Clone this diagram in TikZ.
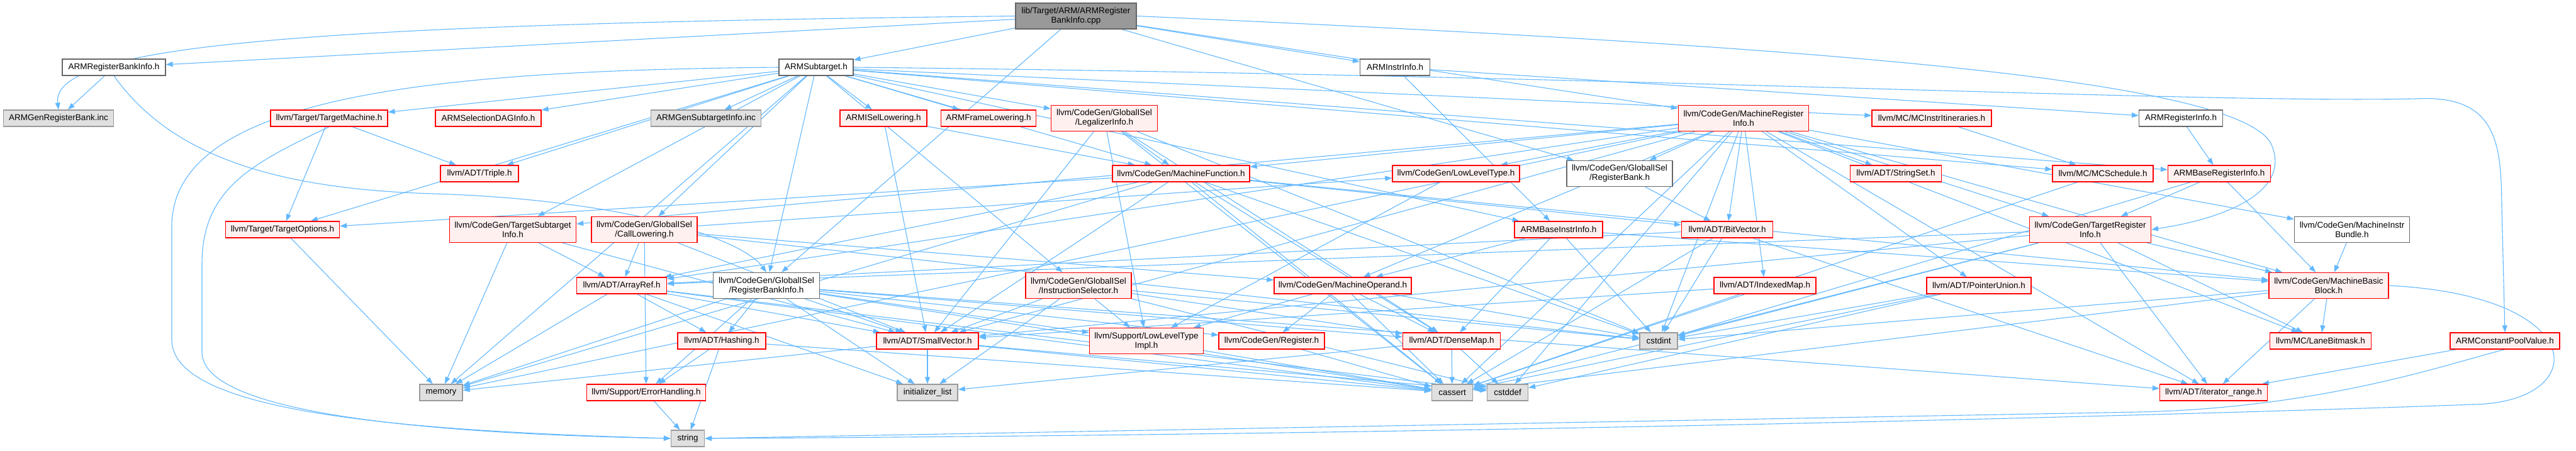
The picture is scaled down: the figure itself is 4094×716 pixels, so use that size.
\documentclass[tikz,border=0pt]{standalone}
\usepackage{fontspec}
\newfontfamily\dxfam{Liberation Sans}
\usetikzlibrary{arrows.meta}
\definecolor{edgeblue}{HTML}{63B8FF}
\definecolor{nodered}{HTML}{FF0000}
\definecolor{nodefill}{HTML}{FFF0F0}
\definecolor{wborder}{HTML}{666666}
\definecolor{gborder}{HTML}{999999}
\definecolor{gfill}{HTML}{E0E0E0}
\definecolor{rootfill}{HTML}{999999}
\newcommand\dxfont{\dxfam\fontsize{13.5pt}{15pt}\selectfont}
\pgfdeclarelayer{bg}
\pgfsetlayers{bg,main}
\tikzset{
  box/.style={rectangle, inner sep=0pt, minimum height=26pt, font=\dxfont, align=center, line width=1.3pt},
  tall/.style={minimum height=41pt},
  rnode/.style={box, draw=nodered, fill=nodefill},
  wnode/.style={box, draw=wborder, fill=white},
  gnode/.style={box, draw=gborder, fill=gfill},
  rootnode/.style={box, draw=wborder, fill=rootfill},
  edge/.style={draw=edgeblue, line width=1.1pt, -{Triangle[length=11pt,width=8pt]}}
}
\begin{document}
\begin{tikzpicture}[x=1pt,y=-1pt]
\useasboundingbox (0,0) rectangle (4094,716);
% row 0
\node[rootnode,tall,minimum width=192pt] (root) at (1710,25.5) {lib/Target/ARM/ARMRegister\\BankInfo.cpp};
% row 1
\node[wnode,minimum width=164pt] (rbinfoh) at (181,107) {ARMRegisterBankInfo.h};
\node[wnode,minimum width=118pt] (subt) at (1297,107) {ARMSubtarget.h};
\node[wnode,minimum width=111pt] (instr) at (2217,107) {ARMInstrInfo.h};
% row 2
\node[gnode,minimum width=175pt] (genrb) at (93,188) {ARMGenRegisterBank.inc};
\node[rnode,minimum width=186pt] (tm) at (523,188) {llvm/Target/TargetMachine.h};
\node[rnode,minimum width=168pt] (seldag) at (776,188) {ARMSelectionDAGInfo.h};
\node[gnode,minimum width=175pt] (gensub) at (1122,188) {ARMGenSubtargetInfo.inc};
\node[rnode,minimum width=138pt] (isel) at (1404,188) {ARMISelLowering.h};
\node[rnode,minimum width=151pt] (frame) at (1571,188) {ARMFrameLowering.h};
\node[rnode,tall,minimum width=169pt] (legal) at (1755,188) {llvm/CodeGen/GlobalISel\\/LegalizerInfo.h};
\node[rnode,tall,minimum width=207pt] (mri) at (2771,188) {llvm/CodeGen/MachineRegister\\Info.h};
\node[rnode,minimum width=190pt] (itin) at (3070,188) {llvm/MC/MCInstrItineraries.h};
\node[wnode,minimum width=133pt] (reginfo) at (3466,188) {ARMRegisterInfo.h};
% row 3
\node[rnode,minimum width=124pt] (triple) at (762,276) {llvm/ADT/Triple.h};
\node[rnode,minimum width=218pt] (mf) at (1877,276) {llvm/CodeGen/MachineFunction.h};
\node[rnode,minimum width=202pt] (llt) at (2314,276) {llvm/CodeGen/LowLevelType.h};
\node[wnode,tall,minimum width=168pt] (rb) at (2574,276) {llvm/CodeGen/GlobalISel\\/RegisterBank.h};
\node[rnode,minimum width=145pt] (sset) at (3013,276) {llvm/ADT/StringSet.h};
\node[rnode,minimum width=160pt] (sched) at (3342,276) {llvm/MC/MCSchedule.h};
\node[rnode,minimum width=163pt] (baseri) at (3527,276) {ARMBaseRegisterInfo.h};
% row 4
\node[rnode,minimum width=181pt] (topt) at (449,365) {llvm/Target/TargetOptions.h};
\node[rnode,tall,minimum width=201pt] (tsi) at (815,365) {llvm/CodeGen/TargetSubtarget\\Info.h};
\node[rnode,tall,minimum width=168pt] (call) at (1024,365) {llvm/CodeGen/GlobalISel\\/CallLowering.h};
\node[rnode,minimum width=140pt] (basei) at (2477,365) {ARMBaseInstrInfo.h};
\node[rnode,minimum width=145pt] (bitv) at (2745,365) {llvm/ADT/BitVector.h};
\node[rnode,tall,minimum width=193pt] (tri) at (3322,365) {llvm/CodeGen/TargetRegister\\Info.h};
\node[wnode,tall,minimum width=183pt] (mib) at (3738,365) {llvm/CodeGen/MachineInstr\\Bundle.h};
% row 5
\node[rnode,minimum width=143pt] (aref) at (988,454) {llvm/ADT/ArrayRef.h};
\node[wnode,tall,minimum width=169pt] (rbi) at (1218,454) {llvm/CodeGen/GlobalISel\\/RegisterBankInfo.h};
\node[rnode,tall,minimum width=168pt] (is) at (1714,454) {llvm/CodeGen/GlobalISel\\/InstructionSelector.h};
\node[rnode,minimum width=218pt] (mo) at (2134,454) {llvm/CodeGen/MachineOperand.h};
\node[rnode,minimum width=162pt] (imap) at (2805,454) {llvm/ADT/IndexedMap.h};
\node[rnode,minimum width=166pt] (pu) at (3145,454) {llvm/ADT/PointerUnion.h};
\node[rnode,tall,minimum width=190pt] (mbb) at (3701,454) {llvm/CodeGen/MachineBasic\\Block.h};
% row 6
\node[rnode,minimum width=140pt] (hash) at (1147,542) {llvm/ADT/Hashing.h};
\node[rnode,minimum width=162pt] (svec) at (1474,542) {llvm/ADT/SmallVector.h};
\node[rnode,tall,minimum width=181pt] (lltimpl) at (1822,542) {llvm/Support/LowLevelType\\Impl.h};
\node[rnode,minimum width=168pt] (reg) at (2021,542) {llvm/CodeGen/Register.h};
\node[rnode,minimum width=155pt] (dmap) at (2307,542) {llvm/ADT/DenseMap.h};
\node[gnode,minimum width=60pt] (cstdint) at (2636,542) {cstdint};
\node[rnode,minimum width=161pt] (lbm) at (3688,542) {llvm/MC/LaneBitmask.h};
\node[rnode,minimum width=174pt] (acpv) at (3981,542) {ARMConstantPoolValue.h};
% row 7
\node[gnode,minimum width=68pt] (memory) at (701,624) {memory};
\node[rnode,minimum width=189pt] (errh) at (1027,624) {llvm/Support/ErrorHandling.h};
\node[gnode,minimum width=96pt] (initl) at (1474,624) {initializer\_list};
\node[gnode,minimum width=65pt] (cassert) at (2308,624) {cassert};
\node[gnode,minimum width=65pt] (cstddef) at (2396,624) {cstddef};
\node[rnode,minimum width=171pt] (irange) at (3518,624) {llvm/ADT/iterator\_range.h};
% row 8
\node[gnode,minimum width=53pt] (string) at (1093,697) {string};

\begin{pgfonlayer}{bg}
\foreach \s/\t in {
 root/rbinfoh, root/subt, root/instr, root/mri, root/rb, root/rbi,
 rbinfoh/genrb,
 subt/tm, subt/seldag, subt/gensub, subt/isel, subt/frame, subt/legal, subt/itin, subt/sched, subt/baseri,
 subt/basei, subt/triple, subt/mf, subt/topt, subt/tsi, subt/call, subt/is, subt/rbi, subt/memory,
 instr/basei, instr/reginfo, reginfo/baseri,
 tm/topt, tm/triple,
 isel/mf, isel/svec,
 legal/mf, legal/svec, legal/lltimpl, legal/dmap, legal/cassert, legal/cstdint,
 mf/aref, mf/bitv, mf/dmap, mf/svec, mf/mbb, mf/topt, mf/cassert, mf/cstdint, mf/memory,
 mri/aref, mri/bitv, mri/imap, mri/pu, mri/svec, mri/sset, mri/irange, mri/mbb, mri/mf, mri/mib, mri/mo,
 mri/rb, mri/tri, mri/tsi, mri/lbm, mri/llt, mri/cassert, mri/cstddef, mri/cstdint, mri/memory,
 llt/lltimpl, rb/bitv, itin/sched, sched/cassert,
 baseri/tri, baseri/mbb, baseri/cstdint,
 topt/memory,
 tsi/aref, tsi/svec, tsi/memory,
 call/aref, call/svec, call/llt, call/mo, call/errh, call/cstdint,
 basei/mo, basei/dmap, basei/cstdint, basei/mbb,
 bitv/aref, bitv/irange, bitv/cassert, bitv/cstdint,
 tri/aref, tri/svec, tri/irange, tri/mbb, tri/lbm, tri/cassert, tri/cstdint,
 mib/mbb,
 aref/hash, aref/svec, aref/cassert, aref/cstddef, aref/initl, aref/memory,
 rbi/dmap, rbi/hash, rbi/svec, rbi/irange, rbi/lltimpl, rbi/reg, rbi/errh, rbi/cassert, rbi/initl, rbi/memory,
 is/dmap, is/svec, is/lltimpl, is/cstddef, is/cstdint, is/initl,
 mo/reg, mo/dmap, mo/lltimpl, mo/cassert, mo/cstdint,
 imap/svec, imap/cassert,
 pu/cassert, pu/cstddef, pu/cstdint,
 mbb/irange, mbb/lbm, mbb/cassert, mbb/cstdint,
 hash/errh, hash/string, hash/cassert,
 svec/cassert, svec/cstddef, svec/initl, svec/memory,
 lltimpl/cassert, reg/cassert,
 dmap/cassert, dmap/cstddef, dmap/initl,
 acpv/irange, errh/string}
 { \draw[edge] (\s) -- (\t); }
% curved connectors
\draw[edge] (root.west) .. controls (500,38) and (80,70) .. (genrb.north);
\draw[edge] (root.east) .. controls (2800,70) and (3560,120) .. (3610,230) .. controls (3640,300) and (3550,345) .. (tri.east);
\draw[edge] (rbinfoh.south) .. controls (260,230) and (400,300) .. (690,308) .. controls (1000,318) and (1180,380) .. (rbi.north);
\draw[edge] (subt.west) .. controls (700,112) and (273,150) .. (273,360) -- (273,540) .. controls (273,650) and (600,684) .. (string.west);
\draw[edge] (tm.south) .. controls (400,260) and (321,300) .. (321,420) -- (321,560) .. controls (321,660) and (700,690) .. (string.west);
\draw[edge] (mbb.east) .. controls (4120,470) and (4120,640) .. (3930,643) .. controls (3700,652) and (2500,690) .. (string.east);
\draw[edge] (acpv.south) .. controls (3900,575) and (3700,648) .. (3400,655) -- (string.east);
\draw[edge] (subt.east) .. controls (2600,120) and (3500,165) .. (3840,157) .. controls (3970,150) and (3975,230) .. (3976,330) -- (acpv.north);
\end{pgfonlayer}
\end{tikzpicture}
\end{document}
